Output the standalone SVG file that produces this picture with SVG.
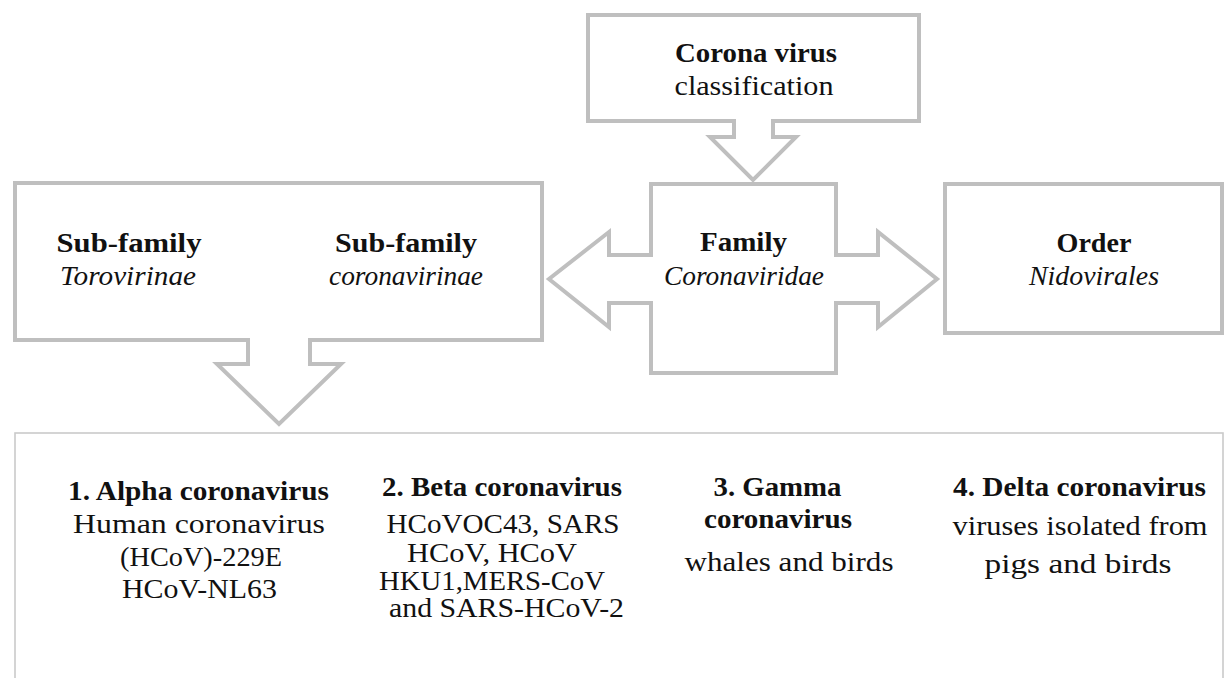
<svg xmlns="http://www.w3.org/2000/svg" width="1225" height="678" viewBox="0 0 1225 678">
<style>
.shape{fill:#ffffff;stroke:#bfbfbf;stroke-width:4;stroke-linejoin:miter}
.panel{fill:#ffffff;stroke:#cacaca;stroke-width:1.6}
text{font-family:"Liberation Serif","Times New Roman","DejaVu Serif",serif;font-size:27px;fill:#111;text-anchor:middle}
.b{font-weight:bold}
.i{font-style:italic}
</style>
<rect width="1225" height="678" fill="#ffffff"/>
<g id="connectors"></g>
<g id="node-bottom">
<rect class="panel" x="15" y="433" width="1208" height="270"/>
</g>
<g id="node-classification">
<path class="shape" d="M588,15 H919 V121 H773 V137 H796 L753,180 L710,137 H734 V121 H588 Z"/>
<text class="b" x="756" y="62" textLength="162" lengthAdjust="spacingAndGlyphs">Corona virus</text>
<text x="754" y="95" textLength="159" lengthAdjust="spacingAndGlyphs">classification</text>
</g>
<g id="node-subfamily">
<path class="shape" d="M15,183 H542 V340 H310 V364 H341 L279,424 L217,364 H248 V340 H15 Z"/>
<text class="b" x="129" y="252" textLength="145" lengthAdjust="spacingAndGlyphs">Sub-family</text>
<text class="i" x="128" y="285" textLength="136" lengthAdjust="spacingAndGlyphs">Torovirinae</text>
<text class="b" x="406" y="252" textLength="142" lengthAdjust="spacingAndGlyphs">Sub-family</text>
<text class="i" x="406" y="285" textLength="154" lengthAdjust="spacingAndGlyphs">coronavirinae</text>
</g>
<g id="node-family">
<path class="shape" d="M651,184 H836 V255 H878 V232 L937,279 L878,327 V303 H836 V373 H651 V303 H609 V327 L549,279 L609,232 V255 H651 Z"/>
<text class="b" x="743.5" y="251" textLength="87" lengthAdjust="spacingAndGlyphs">Family</text>
<text class="i" x="744" y="285" textLength="160" lengthAdjust="spacingAndGlyphs">Coronaviridae</text>
</g>
<g id="node-order">
<rect class="shape" x="945" y="184" width="277" height="149"/>
<text class="b" x="1094" y="252" textLength="75" lengthAdjust="spacingAndGlyphs">Order</text>
<text class="i" x="1094" y="285" textLength="130" lengthAdjust="spacingAndGlyphs">Nidovirales</text>
</g>
<g id="node-alpha">
<text class="b" x="198.5" y="500" textLength="261" lengthAdjust="spacingAndGlyphs">1. Alpha coronavirus</text>
<text x="199" y="533" textLength="252" lengthAdjust="spacingAndGlyphs">Human coronavirus</text>
<text x="201" y="566" textLength="162" lengthAdjust="spacingAndGlyphs">(HCoV)-229E</text>
<text x="199.5" y="598" textLength="155" lengthAdjust="spacingAndGlyphs">HCoV-NL63</text>
</g>
<g id="node-beta">
<text class="b" x="502" y="496" textLength="240" lengthAdjust="spacingAndGlyphs">2. Beta coronavirus</text>
<text x="503" y="533" textLength="233" lengthAdjust="spacingAndGlyphs">HCoVOC43, SARS</text>
<text x="492" y="562" textLength="170" lengthAdjust="spacingAndGlyphs">HCoV, HCoV</text>
<text x="492" y="590" textLength="226" lengthAdjust="spacingAndGlyphs">HKU1,MERS-CoV</text>
<text x="506.5" y="617" textLength="235" lengthAdjust="spacingAndGlyphs">and SARS-HCoV-2</text>
</g>
<g id="node-gamma">
<text class="b" x="777.5" y="496" textLength="128" lengthAdjust="spacingAndGlyphs">3. Gamma</text>
<text class="b" x="778" y="528" textLength="148" lengthAdjust="spacingAndGlyphs">coronavirus</text>
<text x="789" y="571" textLength="209" lengthAdjust="spacingAndGlyphs">whales and birds</text>
</g>
<g id="node-delta">
<text class="b" x="1079.5" y="496" textLength="253" lengthAdjust="spacingAndGlyphs">4. Delta coronavirus</text>
<text x="1080" y="535" textLength="255" lengthAdjust="spacingAndGlyphs">viruses isolated from</text>
<text x="1078" y="573" textLength="187" lengthAdjust="spacingAndGlyphs">pigs and birds</text>
</g>
</svg>
